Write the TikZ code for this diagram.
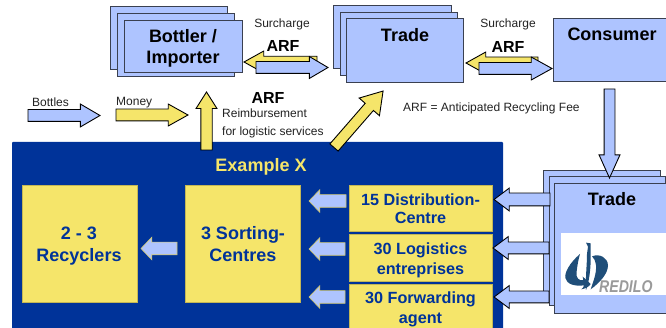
\documentclass[tikz,border=0pt]{standalone}
\usepackage{fontspec}
\setmainfont{Liberation Sans}
\usetikzlibrary{shapes.arrows}
\definecolor{boxblue}{HTML}{AEC4FF}
\definecolor{boxyellow}{HTML}{F5E56A}
\definecolor{navy}{HTML}{003399}
\definecolor{edgegray}{HTML}{3A4050}
\definecolor{txt}{HTML}{222222}
\definecolor{logoblue}{HTML}{1F4E79}
\definecolor{logogray}{HTML}{9A9A9A}
\tikzset{
  x=1pt,y=-1pt,
  panel/.style={draw=edgegray,line width=0.9pt,fill=boxblue},
  ybox/.style={fill=boxyellow,draw=boxyellow!80!black,line width=0.4pt},
  big/.style={font=\bfseries\fontsize{18}{18}\selectfont,text=black,inner sep=0pt,anchor=mid,yshift=-3.5pt},
  arf/.style={font=\bfseries\fontsize{16}{16}\selectfont,text=black,inner sep=0pt,anchor=mid,yshift=-3pt},
  small/.style={font=\fontsize{12}{12}\selectfont,text=txt,inner sep=0pt},
  inyellow/.style={font=\bfseries\fontsize{18}{18}\selectfont,text=navy,inner sep=0pt,anchor=mid,yshift=-3.5pt},
  inyellowb/.style={font=\bfseries\fontsize{16.2}{16}\selectfont,text=navy,inner sep=0pt,anchor=mid,yshift=-3pt},
  arr/.style n args={5}{shape=single arrow,inner xsep=0pt,inner ysep=#2/2+0.5pt,outer sep=0pt,
     minimum width=#3+1pt,minimum height=#1,single arrow head extend={(#3-#2)/2},
     single arrow tip angle={2*atan(#3/2/#4)},single arrow head indent=0pt,
     anchor=tail,rotate=#5},
  bluearr/.style={draw=black,line width=0.9pt,fill=boxblue},
  yelarr/.style={draw=black,line width=0.9pt,fill=boxyellow},
  innerarr/.style={draw=boxyellow!70!gray,line width=0.6pt,fill=boxblue},
}
\begin{document}
\begin{tikzpicture}
\useasboundingbox (0,0) rectangle (666,328);
\fill[white] (0,0) rectangle (666,328);
% top left stack
\draw[panel] (110,6) rectangle (227,69);
\draw[panel] (117,13) rectangle (234,76);
\draw[panel] (124,20) rectangle (242,72);
\node[big] (bottler1) at (183,36) {Bottler /};
\node[big] (bottler2) at (183,57.5) {Importer};
% trade stack
\draw[panel] (333,5) rectangle (451,68);
\draw[panel] (340,12) rectangle (457,75);
\draw[panel] (346,18) rectangle (463,82);
\node[big] (trade1) at (405,35) {Trade};
% consumer
\draw[panel] (553,18) rectangle (670,81);
\node[big] (consumer) at (612,34) {Consumer};
% navy panel
\fill[navy,rounded corners=1pt] (12,142) rectangle (503,332);
\node[font=\bfseries\fontsize{18}{18}\selectfont,text=boxyellow,inner sep=0pt,anchor=mid,yshift=-3.5pt] (example) at (261,165.5) {Example X};
\draw[ybox] (22,185) rectangle (137,302);
\draw[ybox] (185,185) rectangle (300,302);
\draw[ybox] (349,185) rectangle (492,231);
\draw[ybox] (349,234) rectangle (492,281);
\draw[ybox] (349,284) rectangle (492,332);
\node[inyellow] (r1) at (79,233) {2 - 3};
\node[inyellow] (r2) at (79,255) {Recyclers};
\node[inyellow] (s1) at (243,233.5) {3 Sorting-};
\node[inyellow] (s2) at (243,255.5) {Centres};
\node[inyellowb] (d1) at (420.5,199.5) {15 Distribution-};
\node[inyellowb] (d2) at (420.5,218) {Centre};
\node[inyellowb] (l1) at (420.5,249) {30 Logistics};
\node[inyellowb] (l2) at (420.5,269) {entreprises};
\node[inyellowb] (f1) at (420.5,298) {30 Forwarding};
\node[inyellowb] (f2) at (420.5,318) {agent};
% inner arrows
\node[innerarr,arr={36}{11}{21}{10}{180}] (a1) at (177,248.5) {};
\node[innerarr,arr={37}{11}{21}{10}{180}] (a2) at (346,201) {};
\node[innerarr,arr={36}{11}{21}{10}{180}] (a3) at (345,249) {};
\node[innerarr,arr={36}{11}{21}{10}{180}] (a4) at (345,297) {};
% lower trade stack
\draw[panel] (543,170) rectangle (660,295);
\draw[panel] (549,176) rectangle (665,305);
\draw[panel] (554,183) rectangle (670,313);
\node[big] (trade2) at (612,199.5) {Trade};
\fill[white] (561,233) rectangle (668,295);
% logo, in the coordinates of a 3x crop of the area
\begin{scope}[shift={(556,228)},x=0.3333pt,y=-0.3333pt]
\fill[logoblue] (72,78) .. controls (40,105) and (25,135) .. (28,150)
  .. controls (32,168) and (55,176) .. (84,172)
  .. controls (84,176) and (80,180) .. (76,184)
  .. controls (88,182) and (100,176) .. (104,168)
  .. controls (96,160) and (88,152) .. (80,146)
  .. controls (80,150) and (82,153) .. (82,156)
  .. controls (70,160) and (58,150) .. (62,130)
  .. controls (64,110) and (68,92) .. (72,78) -- cycle;
\fill[logoblue] (108,85) .. controls (130,76) and (155,88) .. (156,112)
  .. controls (156,138) and (130,165) .. (104,184)
  .. controls (112,160) and (122,136) .. (120,112)
  .. controls (118,98) and (114,90) .. (108,85) -- cycle;
\fill[logoblue] (90,44) -- (104,46) -- (104,92)
  .. controls (104,130) and (98,165) .. (90,186)
  .. controls (88,150) and (93,110) .. (93,78) -- (96,56) -- cycle;
\end{scope}
\node[font=\bfseries\itshape\fontsize{17}{17}\selectfont,text=logogray,inner sep=0pt,anchor=mid west,xscale=0.83,yshift=-3pt] (redilo) at (599,287) {REDILO};
% arrows lower trade -> panels
\node[bluearr,arr={56}{11}{21}{14}{180}] (t1) at (550,199.5) {};
\node[bluearr,arr={56}{10}{21}{14}{180}] (t2) at (549,248) {};
\node[bluearr,arr={55}{10}{21}{14}{180}] (t3) at (549,297) {};
% top connectors
\node[yelarr,arr={73}{9.5}{20}{18}{180}] (y1) at (317,62) {};
\node[bluearr,arr={72}{10}{20}{17}{0}] (b1) at (256,67.5) {};
\node[yelarr,arr={72}{10}{20}{18}{180}] (y2) at (538,63) {};
\node[bluearr,arr={73}{10}{21}{19}{0}] (b2) at (479,68.5) {};
\node[bluearr,arr={89}{9}{19}{21}{-90}] (down) at (609.5,89) {};
% legend arrows
\node[bluearr,arr={72}{10}{21}{18}{0}] (legb) at (28,115.5) {};
\node[yelarr,arr={72}{10}{20}{18}{0}] (legy) at (116,115) {};
\node[yelarr,arr={58}{9.5}{19}{15}{90}] (up) at (206.5,150) {};
\node[yelarr,arr={74.8}{9}{25}{19.5}{49}] (diag) at (334,147.5) {};
% labels
\node[small] (sur1) at (282,24) {Surcharge};
\node[small] (sur2) at (508,24) {Surcharge};
\node[arf] (arf1) at (283,46) {ARF};
\node[arf] (arf2) at (508,46.5) {ARF};
\node[arf] (arf3) at (268,97.5) {ARF};
\node[small,anchor=west] (bot) at (32,102) {Bottles};
\node[small,anchor=west] (mon) at (116,103) {Money};
\node[small,anchor=west] (rei) at (222,113) {Reimbursement};
\node[small,anchor=west] (log) at (222,132) {for logistic services};
\node[small,anchor=west] (fee) at (403,108) {ARF = Anticipated Recycling Fee};
\end{tikzpicture}
\end{document}
